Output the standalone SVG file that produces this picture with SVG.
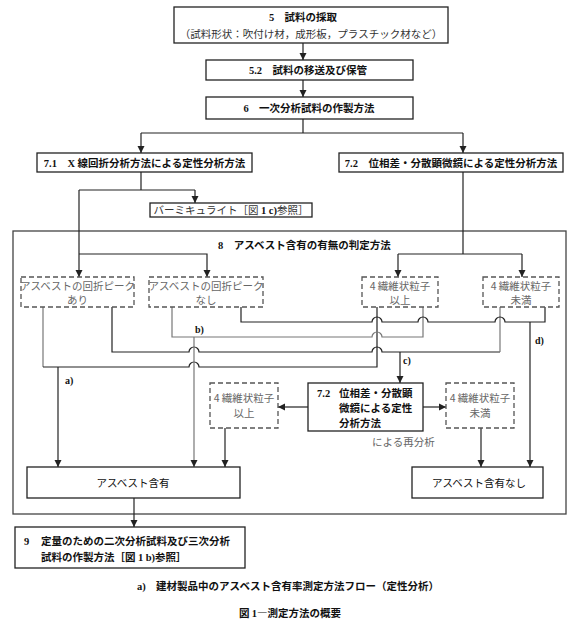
<svg xmlns="http://www.w3.org/2000/svg" width="580" height="629" viewBox="0 0 580 629">
<defs>
<marker id="ah" markerUnits="userSpaceOnUse" markerWidth="8" markerHeight="8" refX="7" refY="4" orient="auto">
<path d="M0,0.5 L7,4 L0,7.5 z" fill="#222"/>
</marker>
<style>
.box{fill:#fff;stroke:#222;stroke-width:1.3}
.dbox{fill:#fff;stroke:#555;stroke-width:1.3;stroke-dasharray:5 3}
.outer{fill:none;stroke:#444;stroke-width:1.3}
.ln{fill:none;stroke:#222;stroke-width:1.2}
.lg{stroke:#777}
.ar{marker-end:url(#ah)}
text{font-family:"Noto Sans CJK JP","Noto Sans",sans-serif;font-size:10.5px;fill:#111}
.c{text-anchor:middle}
.b{font-weight:700}
.m{fill:#333}
.d{fill:#666}
.n{font-family:"Liberation Serif",serif;font-weight:700}
.lbl{font-family:"Liberation Serif",serif;font-weight:700;font-size:10px}
</style>
</defs>
<rect width="580" height="629" fill="#fff"/>

<g id="group8">
<rect class="outer" x="13" y="231" width="553" height="283"/>
<text x="218" y="249" class="b"><tspan class="n">8</tspan>　アスベスト含有の有無の判定方法</text>
</g>

<g id="connectors">
<path class="ln ar" d="M303,43 V60"/>
<path class="ln ar" d="M303,80 V97"/>
<path class="ln" d="M303,119 V133 M141,133 H463"/>
<path class="ln ar" d="M141,133 V153"/>
<path class="ln ar" d="M463,133 V153"/>
<path class="ln" d="M141,172 V190 M79,190 H195"/>
<path class="ln ar" d="M195,190 V203"/>
<path class="ln ar" d="M79,190 V277"/>
<path class="ln ar" d="M79,254 H207 V277"/>
<path class="ln" d="M463,172 V254 M398,254 H522"/>
<path class="ln ar" d="M398,254 V277"/>
<path class="ln ar" d="M522,254 V277"/>
<path class="ln lg" d="M43,307 V367"/>
<path class="ln" d="M43,367 H189 A5,5 0 0 1 199,367 H377 V307"/>
<path class="ln ar" d="M58,367 V467"/>
<path class="ln" d="M112,307 V352 H189 A5,5 0 0 1 199,352 H372 A5,5 0 0 1 382,352 H500"/>
<path class="ln lg" d="M500,352 V307"/>
<path class="ln ar" d="M400,352 V383"/>
<path class="ln lg" d="M172,307 V337 H372 A5,5 0 0 1 382,337 H423 V307"/>
<path class="ln lg ar" d="M194,337 V467"/>
<path class="ln" d="M241,307 V322 H372 A5,5 0 0 1 382,322 H418 A5,5 0 0 1 428,322 H495 A5,5 0 0 1 505,322 H545 V307"/>
<path class="ln ar" d="M530,322 V467"/>
<path class="ln ar" d="M308,407 H278"/>
<path class="ln ar" d="M423,407 H446"/>
<path class="ln ar" d="M225,428 V467"/>
<path class="ln ar" d="M481,428 V467"/>
<path class="ln ar" d="M134,498 V527"/>
<text x="65" y="384" class="lbl">a)</text>
<text x="195" y="333" class="lbl">b)</text>
<text x="403" y="364" class="lbl">c)</text>
<text x="535" y="344" class="lbl">d)</text>
</g>

<g id="n5">
<rect class="box" x="174" y="7" width="274" height="36"/>
<text x="303" y="21" class="c b"><tspan class="n">5</tspan>　試料の採取</text>
<text x="311" y="38" class="c m">（試料形状：吹付け材，成形板，プラスチック材など）</text>
</g>
<g id="n52">
<rect class="box" x="206" y="60" width="207" height="20"/>
<text x="308" y="74" class="c b"><tspan class="n">5.2</tspan>　試料の移送及び保管</text>
</g>
<g id="n6">
<rect class="box" x="206" y="97" width="207" height="22"/>
<text x="309" y="112" class="c b"><tspan class="n">6</tspan>　一次分析試料の作製方法</text>
</g>
<g id="n71">
<rect class="box" x="37" y="153" width="215" height="19"/>
<text x="144.5" y="166.5" class="c b"><tspan class="n">7.1</tspan>　<tspan class="n">X</tspan> 線回折分析方法による定性分析方法</text>
</g>
<g id="n72">
<rect class="box" x="339" y="153" width="224" height="19"/>
<text x="451" y="166.5" class="c b"><tspan class="n">7.2</tspan>　位相差・分散顕微鏡による定性分析方法</text>
</g>
<g id="nverm">
<rect class="box" x="150" y="203" width="162" height="14"/>
<text x="231" y="214" class="c m">バーミキュライト［図 <tspan class="n" fill="#111">1 c)</tspan>参照］</text>
</g>
<g id="nari">
<rect class="dbox" x="21" y="277" width="113" height="30"/>
<text x="77.5" y="290" class="c d">アスベストの回折ピーク</text>
<text x="77.5" y="304" class="c d">あり</text>
</g>
<g id="nnashi">
<rect class="dbox" x="149" y="277" width="114" height="30"/>
<text x="206" y="290" class="c d">アスベストの回折ピーク</text>
<text x="206" y="304" class="c d">なし</text>
</g>
<g id="nijo">
<rect class="dbox" x="362" y="277" width="76" height="30"/>
<text x="400" y="290" class="c d">4 繊維状粒子</text>
<text x="400" y="304" class="c d">以上</text>
</g>
<g id="nmiman">
<rect class="dbox" x="483" y="277" width="76" height="30"/>
<text x="521" y="290" class="c d">4 繊維状粒子</text>
<text x="521" y="304" class="c d">未満</text>
</g>
<g id="nijo2">
<rect class="dbox" x="210" y="383" width="68" height="45"/>
<text x="244" y="402" class="c d">4 繊維状粒子</text>
<text x="244" y="417" class="c d">以上</text>
</g>
<g id="n72b">
<rect class="box" x="308" y="383" width="115" height="48"/>
<text x="317" y="397" class="b"><tspan class="n">7.2</tspan></text>
<text x="339" y="397" class="b">位相差・分散顕</text>
<text x="339" y="412" class="b">微鏡による定性</text>
<text x="339" y="427" class="b">分析方法</text>
<text x="372" y="446" class="d">による再分析</text>
</g>
<g id="nmiman2">
<rect class="dbox" x="446" y="383" width="68" height="45"/>
<text x="480" y="402" class="c d">4 繊維状粒子</text>
<text x="480" y="417" class="c d">未満</text>
</g>
<g id="nyes">
<rect class="box" x="27" y="467" width="213" height="31"/>
<text x="133" y="487" class="c">アスベスト含有</text>
</g>
<g id="nno">
<rect class="box" x="412" y="467" width="131" height="31"/>
<text x="479" y="487" class="c">アスベスト含有なし</text>
</g>
<g id="n9">
<rect class="box" x="15" y="527" width="230" height="41"/>
<text x="24" y="545" class="b"><tspan class="n">9</tspan></text>
<text x="41" y="545" class="b">定量のための二次分析試料及び三次分析</text>
<text x="41" y="561" class="b">試料の作製方法［図 <tspan class="n">1 b)</tspan>参照］</text>
</g>
<g id="captions">
<text x="288" y="590" class="c b" font-size="11.5"><tspan class="n">a)</tspan>　建材製品中のアスベスト含有率測定方法フロー（定性分析）</text>
<text x="290" y="617" class="c b">図 <tspan class="n">1</tspan>―測定方法の概要</text>
</g>
</svg>
